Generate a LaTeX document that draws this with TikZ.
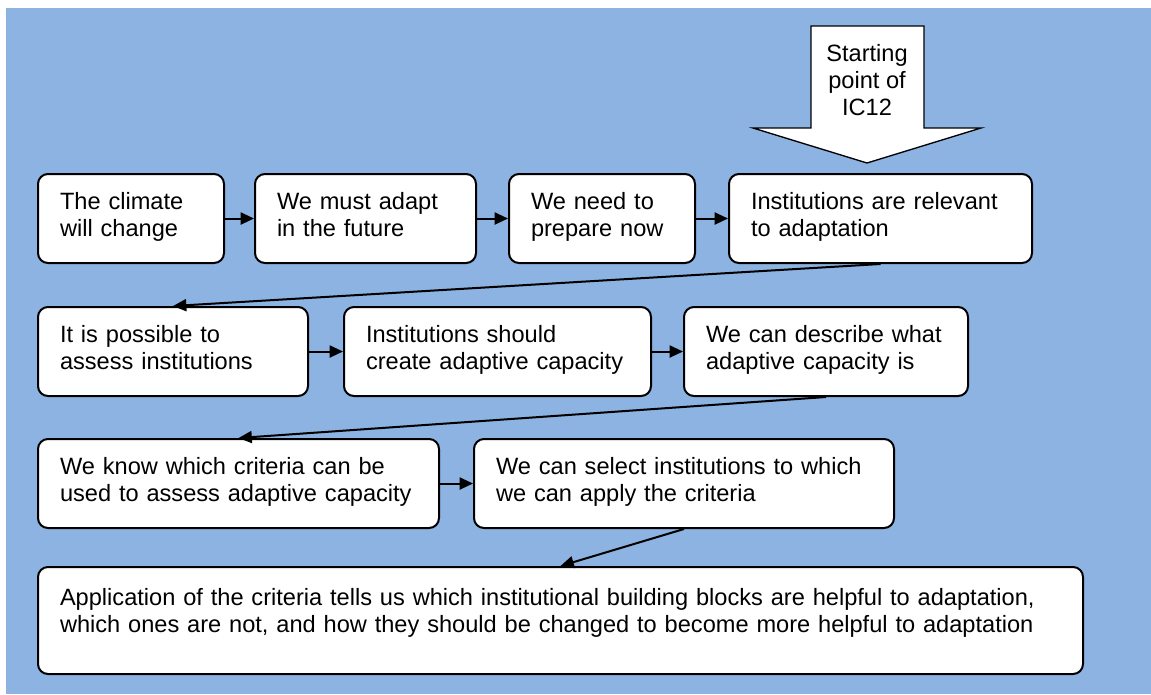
\documentclass[tikz,border=0pt]{standalone}
\usepackage{fontspec}
\setmainfont{Liberation Sans}
\usetikzlibrary{arrows.meta}
\definecolor{bgblue}{RGB}{141,179,226}
\tikzset{
	box/.style={draw, line width=1.5pt, rounded corners=7.5pt, fill=white,
		align=left, anchor=north west, inner xsep=16.5pt, inner ysep=0pt,
		minimum height=66.75pt, execute at end node=\strut,
		font=\fontsize{17.7}{20.7}\selectfont},
	link/.style={line width=1.5pt, -{Triangle[length=10pt,width=9pt]}}
}
\begin{document}
\begin{tikzpicture}[x=0.75pt,y=-0.75pt]
	\useasboundingbox (0,0) rectangle (1151,694);
	\fill[bgblue] (6,8) rectangle (1151,694);
	% block arrow on top
	\draw[line width=1pt,fill=white] (811,26)--(924,26)--(924,128)--(981,128)--(867,163)--(753,128)--(811,128)--cycle;
	\node[align=center,font=\fontsize{17.7}{20.3}\selectfont] (start) at (867,80) {Starting\\point of\\IC12};
	% first row
	\node[box,text width=106.5pt] (climate) at (37,173) {The climate\\will change};
	\node[box,text width=132.75pt] (adapt) at (254,173) {We must adapt\\in the future};
	\node[box,text width=106.5pt] (prepare) at (508,173) {We need to\\prepare now};
	\node[box,text width=194.25pt] (relevant) at (728,173) {Institutions are relevant\\to adaptation};
	% second row
	\node[box,text width=169.5pt] (assess) at (37,306) {It is possible to\\assess institutions};
	\node[box,text width=197.25pt] (create) at (343,306) {Institutions should\\create adaptive capacity};
	\node[box,text width=180pt] (describe) at (683,306) {We can describe what\\adaptive capacity is};
	% third row
	\node[box,text width=267.75pt] (criteria) at (37,438) {We know which criteria can be\\used to assess adaptive capacity};
	\node[box,text width=282pt] (select) at (473,438) {We can select institutions to which\\we can apply the criteria};
	% last box
	\node[box,text width=750.75pt,minimum height=80.25pt] (apply) at (37,566) {Application of the criteria tells us which institutional building blocks are helpful to adaptation,\\which ones are not, and how they should be changed to become more helpful to adaptation\\[-12pt]\mbox{}};
	% connectors
	\draw[link] (climate.east) -- (adapt.west);
	\draw[link] (adapt.east) -- (prepare.west);
	\draw[link] (prepare.east) -- (relevant.west);
	\draw[link] (relevant.south) -- (assess.north);
	\draw[link] (assess.east) -- (create.west);
	\draw[link] (create.east) -- (describe.west);
	\draw[link] (describe.south) -- (criteria.north);
	\draw[link] (criteria.east) -- (select.west);
	\draw[link] (select.south) -- (apply.north);
\end{tikzpicture}
\end{document}
